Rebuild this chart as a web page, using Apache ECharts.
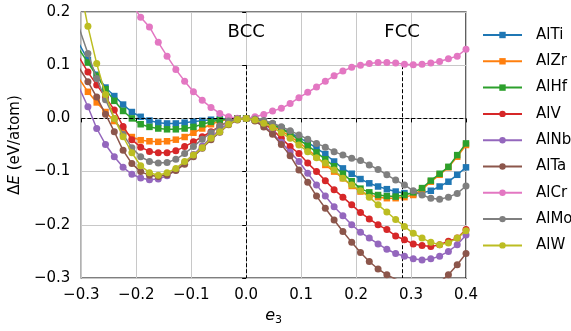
<!DOCTYPE html>
<html><head><meta charset="utf-8">
<script src="https://cdn.jsdelivr.net/npm/echarts@6/dist/echarts.min.js"></script>
<style>html,body{margin:0;padding:0;background:#fff}#c{width:571px;height:331px}</style>
</head><body><div id="c"></div>
<script>
const e3 = [-0.304,-0.288,-0.272,-0.256,-0.24,-0.224,-0.208,-0.192,-0.176,-0.16,-0.144,-0.128,-0.112,-0.096,-0.08,-0.064,-0.048,-0.032,-0.016,0,
  0.016,0.032,0.048,0.064,0.08,0.096,0.112,0.128,0.144,0.16,0.176,0.192,0.208,0.224,0.24,0.256,0.272,0.288,0.304,0.32,0.336,0.352,0.368,0.384,0.4];
const AlTi = [0.14,0.11,0.082,0.058,0.042,0.026,0.012,0.003,-0.004,-0.008,-0.0095,-0.0095,-0.008,-0.006,-0.0045,-0.0025,-0.001,-0.0005,0,0,
  -0.002,-0.006,-0.012,-0.019,-0.027,-0.036,-0.045,-0.056,-0.067,-0.081,-0.094,-0.104,-0.114,-0.122,-0.128,-0.133,-0.1375,-0.1405,-0.142,-0.14,-0.136,-0.128,-0.119,-0.106,-0.092];
const AlZr = [0.075,0.05,0.03,0.012,-0.005,-0.022,-0.035,-0.041,-0.043,-0.044,-0.043,-0.04,-0.035,-0.027,-0.019,-0.011,-0.005,-0.0015,0,0,
  -0.002,-0.007,-0.014,-0.023,-0.034,-0.045,-0.058,-0.072,-0.0875,-0.1,-0.1125,-0.127,-0.1375,-0.144,-0.148,-0.15,-0.15,-0.148,-0.144,-0.134,-0.119,-0.106,-0.092,-0.072,-0.05];
const AlHf = [0.13,0.105,0.08,0.055,0.033,0.014,0.0,-0.011,-0.016,-0.019,-0.0205,-0.0205,-0.019,-0.016,-0.011,-0.0065,-0.003,-0.001,0,0,
  -0.002,-0.006,-0.012,-0.019,-0.029,-0.04,-0.051,-0.064,-0.077,-0.09,-0.104,-0.118,-0.132,-0.139,-0.144,-0.146,-0.147,-0.144,-0.139,-0.131,-0.117,-0.104,-0.091,-0.069,-0.047];
const AlV = [0.115,0.087,0.063,0.04,0.016,-0.015,-0.04,-0.054,-0.062,-0.0645,-0.0645,-0.061,-0.053,-0.044,-0.0345,-0.025,-0.0145,-0.006,-0.001,0,
  -0.003,-0.01,-0.021,-0.0375,-0.053,-0.066,-0.084,-0.1,-0.117,-0.134,-0.148,-0.1625,-0.177,-0.189,-0.2,-0.209,-0.221,-0.228,-0.236,-0.239,-0.241,-0.2375,-0.231,-0.225,-0.209];
const AlNb = [0.058,0.022,-0.019,-0.049,-0.072,-0.092,-0.105,-0.112,-0.1155,-0.114,-0.108,-0.097,-0.083,-0.068,-0.052,-0.036,-0.021,-0.009,-0.002,0,
  -0.004,-0.013,-0.028,-0.045,-0.063,-0.081,-0.103,-0.125,-0.146,-0.166,-0.183,-0.2,-0.214,-0.225,-0.236,-0.246,-0.254,-0.259,-0.264,-0.266,-0.264,-0.259,-0.25,-0.2375,-0.219];
const AlTa = [0.095,0.069,0.04,0.008,-0.025,-0.06,-0.085,-0.1,-0.107,-0.109,-0.106,-0.098,-0.086,-0.072,-0.056,-0.04,-0.026,-0.012,-0.003,0,
  -0.005,-0.016,-0.03,-0.049,-0.07,-0.097,-0.12,-0.146,-0.169,-0.191,-0.2125,-0.233,-0.252,-0.269,-0.283,-0.294,-0.302,-0.31,-0.315,-0.318,-0.316,-0.308,-0.294,-0.275,-0.254];
const AlCr = [0.365,0.34,0.315,0.29,0.265,0.24,0.215,0.19,0.172,0.143,0.117,0.092,0.07,0.05,0.034,0.0206,0.0094,0.003,0.0005,0,
  0.003,0.0075,0.0137,0.019,0.028,0.039,0.049,0.059,0.07,0.08,0.089,0.096,0.1,0.103,0.105,0.105,0.104,0.102,0.101,0.102,0.104,0.107,0.112,0.117,0.13];
const AlMo = [0.17,0.122,0.075,0.035,0.0,-0.03,-0.055,-0.072,-0.081,-0.084,-0.083,-0.077,-0.066,-0.053,-0.039,-0.027,-0.0145,-0.005,-0.001,0,
  -0.001,-0.004,-0.009,-0.0156,-0.023,-0.031,-0.039,-0.047,-0.054,-0.0625,-0.069,-0.075,-0.079,-0.0875,-0.096,-0.106,-0.116,-0.125,-0.136,-0.144,-0.15,-0.152,-0.148,-0.141,-0.127];
const AlW = [0.255,0.173,0.103,0.045,0.0,-0.0345,-0.0645,-0.089,-0.102,-0.107,-0.102,-0.094,-0.081,-0.069,-0.055,-0.0375,-0.025,-0.011,-0.002,0,
  -0.003,-0.009,-0.017,-0.027,-0.0375,-0.05,-0.0625,-0.074,-0.084,-0.097,-0.1125,-0.125,-0.136,-0.148,-0.1625,-0.176,-0.19,-0.203,-0.216,-0.225,-0.233,-0.2375,-0.234,-0.225,-0.211];

const names = ['AlTi','AlZr','AlHf','AlV','AlNb','AlTa','AlCr','AlMo','AlW'];
const values = [AlTi,AlZr,AlHf,AlV,AlNb,AlTa,AlCr,AlMo,AlW];
const colors = ['#1f77b4','#ff7f0e','#2ca02c','#d62728','#9467bd','#8c564b','#e377c2','#7f7f7f','#bcbd22'];
const markers = ['rect','rect','rect','circle','circle','circle','circle','circle','circle'];
const xTicks = [-0.3,-0.2,-0.1,0.0,0.1,0.2,0.3,0.4];
const yTicks = [-0.3,-0.2,-0.1,0.0,0.1,0.2];
const phases = [{name:'BCC', e3:0}, {name:'FCC', e3:0.2836}];
const phaseLineTop = 0.1, phaseLabelY = 0.1625;

const FONT = 'DejaVu Sans';
const fmt = v => v.toFixed(1).replace('-', '\u2212');

const chart = echarts.init(document.getElementById('c'), null, {renderer:'canvas'});

const series = [{
  type:'line', data:[], silent:true, z:1,
  markLine:{
    silent:true, symbol:['none','none'], animation:false,
    label:{show:false},
    lineStyle:{type:[4,2], color:'#000', width:1},
    data: [
      [{coord:[xTicks[0],0]},{coord:[xTicks[xTicks.length-1],0]}],
      ...phases.map(p => [{coord:[p.e3, phaseLineTop]},{coord:[p.e3, yTicks[0]]}])
    ]
  },
  markPoint:{
    silent:true, animation:false, symbol:'circle', symbolSize:0,
    label:{show:true, position:'inside', formatter:'{b}', fontFamily:FONT, fontSize:18, color:'#000'},
    data: phases.map(p => ({name:p.name, coord:[p.e3, phaseLabelY]}))
  }
}];
names.forEach((n,i) => {
  series.push({
    name:n, type:'line', z:2+i,
    data: e3.map((x,j) => [x, values[i][j]]),
    symbol: markers[i], symbolSize: markers[i]==='rect' ? 6.5 : 7, showAllSymbol:true,
    lineStyle:{width:1.5, color:colors[i]},
    itemStyle:{color:colors[i]},
    clip:true
  });
});

chart.setOption({
  animation:false,
  backgroundColor:'#fff',
  grid:{left:78, right:105, top:12, bottom:53, show:true, borderColor:'#000', borderWidth:1.25, backgroundColor:'transparent'},
  xAxis:{
    type:'value', min:xTicks[0], max:xTicks[xTicks.length-1], interval:0.1,
    name:'{i|e}{s|3}', nameLocation:'middle', nameGap:24,
    nameTextStyle:{rich:{
      i:{fontFamily:FONT, fontStyle:'italic', fontSize:16, color:'#000'},
      s:{fontFamily:FONT, fontSize:11, color:'#000', padding:[8,0,0,0]}
    }},
    axisLine:{show:false},
    axisTick:{show:true, inside:false, length:4, lineStyle:{color:'#000', width:1}},
    axisLabel:{formatter:fmt, fontFamily:FONT, fontSize:15, color:'#000', margin:10, showMinLabel:true, showMaxLabel:true},
    splitLine:{show:true, lineStyle:{color:'#c8c8c8', width:1}}
  },
  yAxis:{
    type:'value', min:yTicks[0], max:yTicks[yTicks.length-1], interval:0.1,
    name:'{n|\u0394}{i|E}{n| (eV/atom)}', nameLocation:'middle', nameGap:47, nameRotate:90,
    nameTextStyle:{rich:{
      n:{fontFamily:FONT, fontSize:15, color:'#000'},
      i:{fontFamily:FONT, fontStyle:'italic', fontSize:15, color:'#000'}
    }},
    axisLine:{show:false},
    axisTick:{show:true, inside:false, length:4, lineStyle:{color:'#000', width:1}},
    axisLabel:{formatter:fmt, fontFamily:FONT, fontSize:15, color:'#000', margin:11, showMinLabel:true, showMaxLabel:true},
    splitLine:{show:true, lineStyle:{color:'#c8c8c8', width:1}}
  },
  legend:{
    data:names, orient:'vertical', left:482, top:27, padding:0,
    itemWidth:39, itemHeight:8, itemGap:10.3,
    textStyle:{fontFamily:FONT, fontSize:15, color:'#000', lineHeight:16, padding:[0,0,0,9]},
    selectedMode:false
  },
  series
});
</script></body></html>
